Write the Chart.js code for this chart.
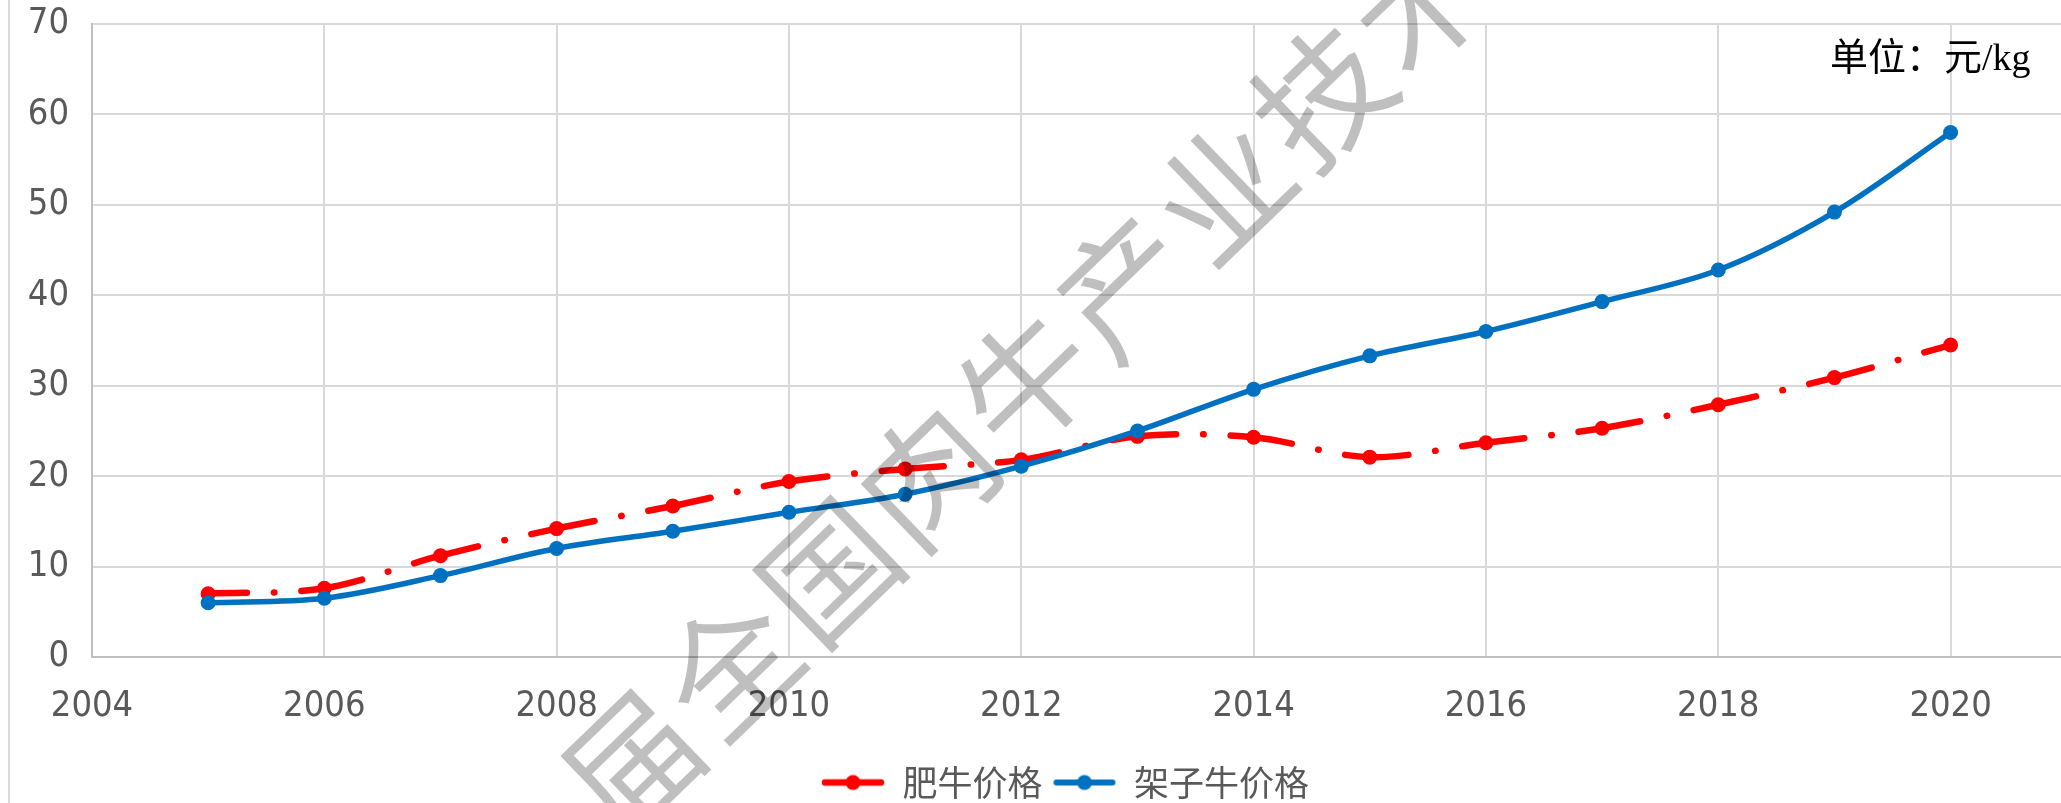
<!DOCTYPE html>
<html>
<head>
<meta charset="utf-8">
<script src="https://cdn.jsdelivr.net/npm/chart.js@4.4.0/dist/chart.umd.min.js"></script>
<style>
  html, body { margin: 0; padding: 0; background: #fff; overflow: hidden; }
  #wrap { position: absolute; left: 0; top: 0; }
</style>
</head>
<body>
<div id="wrap"><canvas id="priceChart" width="2130" height="810"></canvas></div>
<script>
// data
var years = [2005, 2006, 2007, 2008, 2009, 2010, 2011, 2012, 2013, 2014, 2015, 2016, 2017, 2018, 2019, 2020];
var fatPrice = [7.0, 7.6, 11.2, 14.2, 16.7, 19.4, 20.8, 21.8, 24.4, 24.3, 22.1, 23.7, 25.3, 27.9, 30.9, 34.5];
var feederPrice = [6.0, 6.5, 9.0, 12.0, 13.9, 16.0, 18.0, 21.1, 25.0, 29.6, 33.3, 36.0, 39.3, 42.8, 49.2, 58.0];
var seriesNames = ['肥牛价格', '架子牛价格'];
var xTicks = [2004, 2006, 2008, 2010, 2012, 2014, 2016, 2018, 2020];
var unitText = '单位：元/kg';
var watermark = '届全国肉牛产业技术';

var tickFont = '"Liberation Sans Narrow", "DejaVu Sans Condensed", sans-serif';
var cjkFont = '"Noto Sans CJK SC", sans-serif';
var red = '#FF0000';
var blue = '#0070C0';

function toPoints(vals) {
    return years.map(function (yr, i) { return { x: yr, y: vals[i] }; });
}

// little line + marker picture for the legend
function legendIcon(color, width) {
    var c = document.createElement('canvas');
    c.width = 64;
    c.height = 18;
    var g = c.getContext('2d');
    g.strokeStyle = color;
    g.lineWidth = width;
    g.lineCap = 'round';
    g.beginPath();
    g.moveTo(4, 9);
    g.lineTo(60, 9);
    g.stroke();
    g.fillStyle = color;
    g.beginPath();
    g.arc(32, 9, 7.5, 0, Math.PI * 2);
    g.fill();
    return c;
}
var icons = [legendIcon(red, 6.5), legendIcon(blue, 6)];

var extras = {
    id: 'extras',
    afterDraw: function (chart) {
        var ctx = chart.ctx;
        ctx.save();
        // outer frame edge on the left
        ctx.strokeStyle = '#d9d9d9';
        ctx.lineWidth = 2;
        ctx.beginPath();
        ctx.moveTo(9, 0);
        ctx.lineTo(9, chart.height);
        ctx.stroke();

        ctx.fillStyle = '#000';
        ctx.font = '38px "Liberation Serif", ' + cjkFont;
        ctx.textAlign = 'left';
        ctx.textBaseline = 'middle';
        ctx.fillText(unitText, 1830, 60);

        // watermark
        ctx.translate(632, 762);
        ctx.rotate(-44 * Math.PI / 180);
        ctx.font = '132px ' + cjkFont;
        ctx.fillStyle = 'rgba(0,0,0,0.25)';
        ctx.textAlign = 'center';
        for (var i = 0; i < watermark.length; i++) {
            ctx.fillText(watermark[i], i * 137, 0);
        }
        ctx.restore();
    }
};

var ctx = document.getElementById('priceChart').getContext('2d');

var myChart = new Chart(ctx, {
    type: 'line',
    data: {
        datasets: [{
            label: seriesNames[0],
            data: toPoints(fatPrice),
            borderColor: red,
            backgroundColor: red,
            borderWidth: 6.5,
            borderCapStyle: 'round',
            borderDash: [67, 27, 0.5, 27],
            segment: {
                // restart the dash at every point, like the original
                borderDashOffset: function (c) { return c.p0DataIndex % 2 ? 28.25 : 28.26; }
            },
            pointRadius: 7.5,
            pointBorderWidth: 0,
            tension: 0.33,
            order: 1
        }, {
            label: seriesNames[1],
            data: toPoints(feederPrice),
            borderColor: blue,
            backgroundColor: blue,
            borderWidth: 5.5,
            pointRadius: 7.5,
            pointBorderWidth: 0,
            tension: 0.33,
            order: 0
        }]
    },
    options: {
        responsive: false,
        animation: false,
        layout: { padding: { top: 0, left: 0, right: 0, bottom: 0 } },
        scales: {
            x: {
                type: 'linear',
                min: 2004,
                max: 2021.48,
                afterBuildTicks: function (s) {
                    s.ticks = xTicks.map(function (v) { return { value: v }; });
                },
                afterFit: function (s) {
                    s.height = 98;
                    s.paddingLeft = 0;
                    s.paddingRight = 0;
                },
                grid: { color: '#d9d9d9', lineWidth: 2, drawTicks: false },
                border: { color: '#bfbfbf', width: 2 },
                ticks: {
                    color: '#595959',
                    font: { family: tickFont, size: 36 },
                    padding: 28,
                    maxRotation: 0,
                    callback: function (v) { return String(v); }
                }
            },
            y: {
                min: 0,
                max: 70,
                afterFit: function (s) {
                    s.width = 92;
                    s.paddingTop = 24;
                    s.paddingBottom = 0;
                },
                grid: { color: '#d9d9d9', lineWidth: 2, drawTicks: false },
                border: { color: '#bfbfbf', width: 2 },
                ticks: {
                    stepSize: 10,
                    color: '#595959',
                    font: { family: tickFont, size: 36 },
                    padding: 23
                }
            }
        },
        plugins: {
            tooltip: { enabled: false },
            legend: {
                position: 'bottom',
                labels: {
                    usePointStyle: true,
                    pointStyleWidth: 64,
                    padding: 10,
                    color: '#595959',
                    font: { family: cjkFont, size: 35 },
                    generateLabels: function (chart) {
                        return chart.data.datasets.map(function (ds, i) {
                            return {
                                text: ds.label,
                                pointStyle: icons[i],
                                fontColor: '#595959',
                                fillStyle: 'transparent',
                                strokeStyle: 'transparent',
                                lineWidth: 0,
                                hidden: false,
                                datasetIndex: i
                            };
                        });
                    }
                }
            }
        }
    },
    plugins: [extras]
});
</script>
</body>
</html>
